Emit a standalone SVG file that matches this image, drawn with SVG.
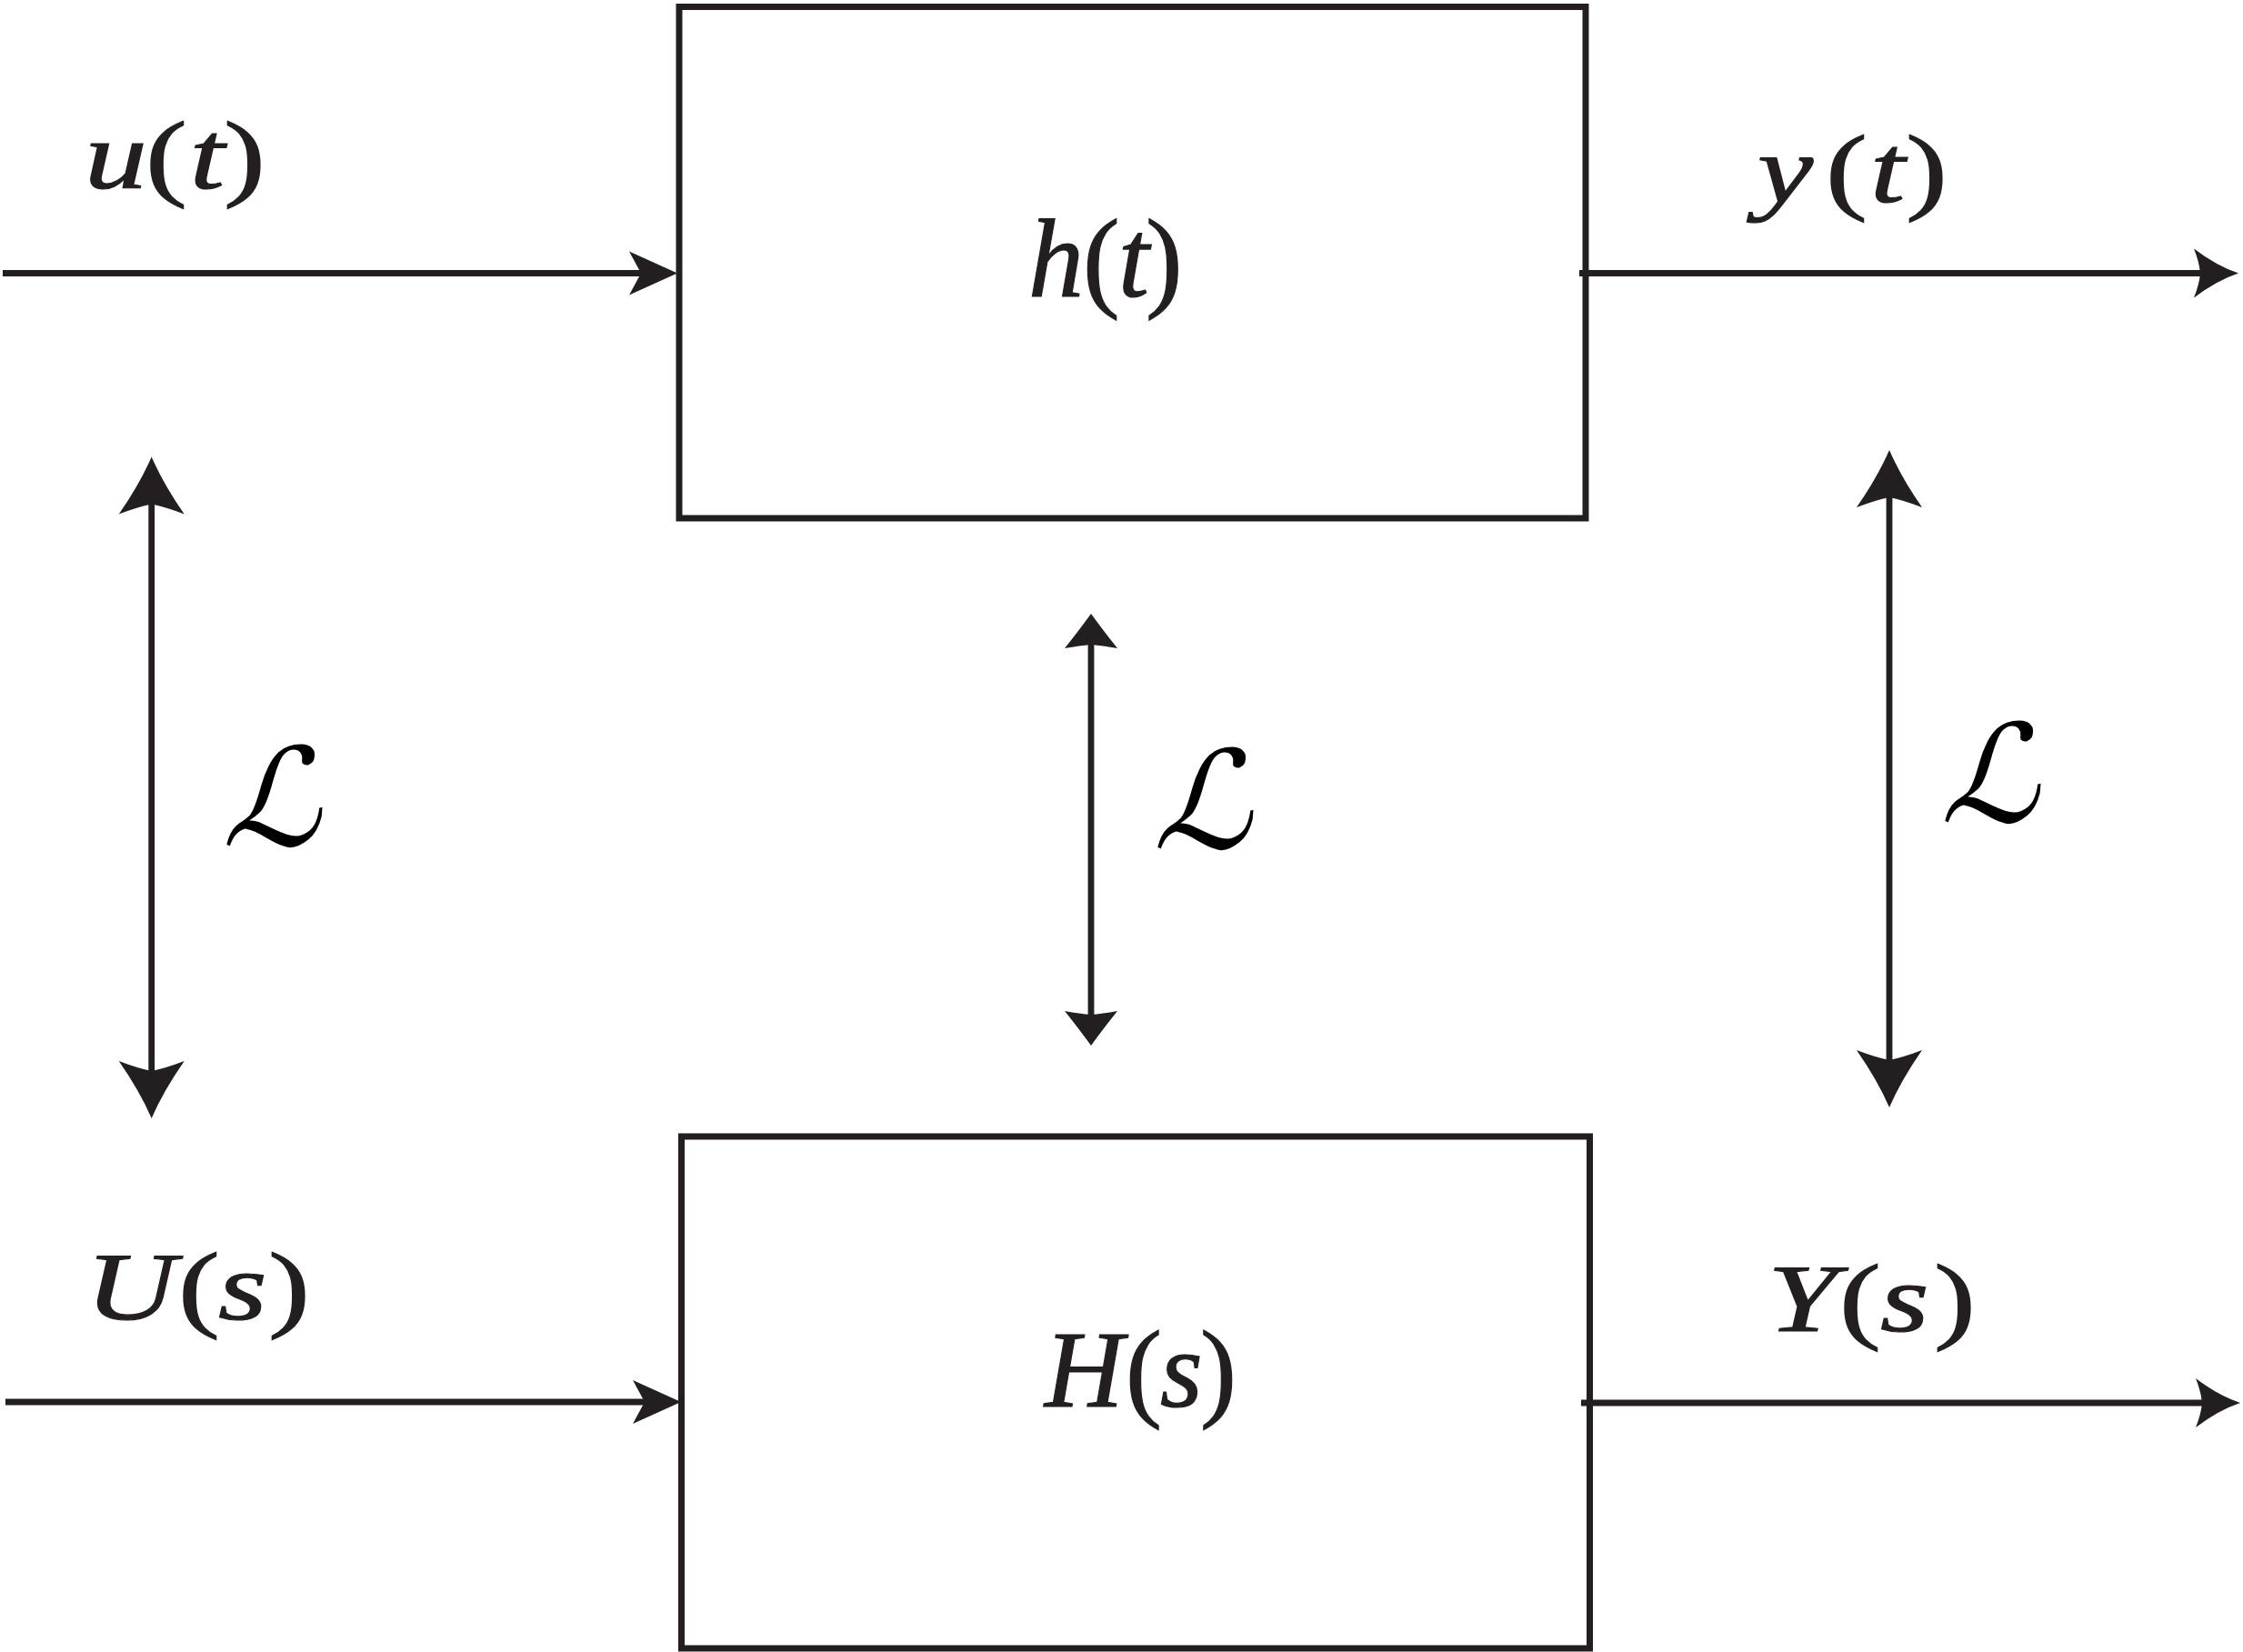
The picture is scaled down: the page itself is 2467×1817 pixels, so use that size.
<svg xmlns="http://www.w3.org/2000/svg" width="2467" height="1817" viewBox="0 0 2467 1817">
  <style>
    .box { fill: none; stroke: #231f20; stroke-width: 7; }
    .wire { fill: none; stroke: #231f20; stroke-width: 6.8; }
    .head { fill: #231f20; stroke: none; }
    .lbl { font-family: 'Liberation Serif', 'Times New Roman', serif; fill: #231f20; stroke: #231f20; stroke-width: 1.2; }
    .i { font-style: italic; }
    .scr { font-family: 'DejaVu Sans', sans-serif; fill: #000; text-anchor: middle; }
  </style>
  <defs>
    <marker id="inArrow" markerUnits="userSpaceOnUse" markerWidth="1" markerHeight="1" refX="0" refY="0" orient="auto" overflow="visible">
      <path class="head" d="M38,0 L-15,-24 L-2,0 L-15,24 Z"/>
    </marker>
    <marker id="outArrow" markerUnits="userSpaceOnUse" markerWidth="1" markerHeight="1" refX="0" refY="0" orient="auto" overflow="visible">
      <path class="head" d="M40,0 Q16,-8 -9,-27 Q-3,-12 -2,0 Q-3,12 -9,27 Q16,8 40,0 Z"/>
    </marker>
    <marker id="bigArrow" markerUnits="userSpaceOnUse" markerWidth="1" markerHeight="1" refX="0" refY="0" orient="auto-start-reverse" overflow="visible">
      <path class="head" d="M50,0 Q20,-13 -13,-36 Q-5,-15 -2,0 Q-5,15 -13,36 Q20,13 50,0 Z"/>
    </marker>
    <marker id="smallArrow" markerUnits="userSpaceOnUse" markerWidth="1" markerHeight="1" refX="0" refY="0" orient="auto-start-reverse" overflow="visible">
      <path class="head" d="M32,0 Q14,-13 -6,-29 Q-3,-12 -2,0 Q-3,12 -6,29 Q14,13 32,0 Z"/>
    </marker>
  </defs>

  <g id="node-h">
    <rect class="box" x="747" y="7.5" width="997" height="562.5"/>
    <text class="lbl" font-size="122" y="326"><tspan class="i" x="1131">h</tspan><tspan x="1191">(</tspan><tspan class="i" x="1230">t</tspan><tspan x="1260">)</tspan></text>
  </g>

  <g id="node-H">
    <rect class="box" x="749.5" y="1250" width="999" height="563"/>
    <text class="lbl" font-size="120" y="1547"><tspan class="i" x="1149">H</tspan><tspan x="1238">(</tspan><tspan class="i" x="1276">s</tspan><tspan x="1320">)</tspan></text>
  </g>

  <g id="connectors">
    <line class="wire" x1="3" y1="300.5" x2="707" y2="300.5" marker-end="url(#inArrow)"/>
    <line class="wire" x1="6" y1="1542" x2="711" y2="1542" marker-end="url(#inArrow)"/>
    <line class="wire" x1="1737" y1="300.5" x2="2422" y2="300.5" marker-end="url(#outArrow)"/>
    <line class="wire" x1="1739" y1="1543" x2="2424" y2="1543" marker-end="url(#outArrow)"/>
    <line class="wire" x1="166.7" y1="552.5" x2="166.7" y2="1180" marker-start="url(#bigArrow)" marker-end="url(#bigArrow)"/>
    <line class="wire" x1="2078" y1="545" x2="2078" y2="1168" marker-start="url(#bigArrow)" marker-end="url(#bigArrow)"/>
    <line class="wire" x1="1200" y1="707" x2="1200" y2="1118" marker-start="url(#smallArrow)" marker-end="url(#smallArrow)"/>
  </g>

  <g id="labels">
    <text class="lbl" font-size="106" transform="translate(93,207) scale(1.3,1)"><tspan class="i" x="0">u</tspan><tspan x="51.5">(</tspan><tspan class="i" x="89">t</tspan><tspan x="117.7">)</tspan></text>
    <text class="lbl" font-size="106" transform="translate(1933,222) scale(1.3,1)"><tspan class="i" x="0">y</tspan><tspan x="57.7">(</tspan><tspan class="i" x="95.4">t</tspan><tspan x="125.4">)</tspan></text>
    <text class="lbl" font-size="106" transform="translate(94,1451) scale(1.3,1)"><tspan class="i" x="0">U</tspan><tspan x="78.5">(</tspan><tspan class="i" x="112.3">s</tspan><tspan x="154.6">)</tspan></text>
    <text class="lbl" font-size="106" transform="translate(1944,1464) scale(1.3,1)"><tspan class="i" x="0">Y</tspan><tspan x="60.8">(</tspan><tspan class="i" x="95.4">s</tspan><tspan x="140.8">)</tspan></text>
    <text class="scr" font-size="150" transform="translate(298,930) skewX(-14)">ℒ</text>
    <text class="scr" font-size="150" transform="translate(1322,933) skewX(-14)">ℒ</text>
    <text class="scr" font-size="150" transform="translate(2188,904) skewX(-14)">ℒ</text>
  </g>
</svg>
